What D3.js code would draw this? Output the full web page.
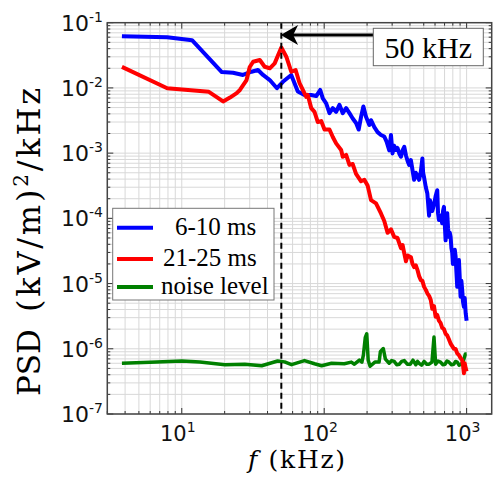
<!DOCTYPE html>
<html>
<head>
<meta charset="utf-8">
<script src="https://cdn.jsdelivr.net/npm/d3@7"></script>
<style>
body { margin: 0; background: #fff; }
</style>
</head>
<body>
<svg id="chart" width="495" height="483"></svg>
<script>
// frequencies in kHz, PSD in (kV/m)^2/kHz
var blueF = [3.8, 7.9, 11.8, 19.1, 22.9, 26.9, 30.9, 34.3, 37.2, 41.5, 46.6, 51.3, 58.7, 65.3, 72.7, 81.1, 87.9, 93.7, 97.8,
	103.3, 108.9, 114.9, 121.3, 127.9, 135, 142.6, 150.4, 158.6, 167.4, 174.6, 181.5, 188.4, 196.6, 207.5, 213.2, 224.9,
	237.1, 250.4, 264.1, 274.2, 286.3, 294.3, 301.8, 310, 319, 327, 337, 346, 355, 365, 375, 385, 395, 406, 417, 428, 440,
	452, 464, 477, 489, 495, 503, 517, 530, 545, 553, 560, 574, 590, 606, 622, 630, 639, 656, 674, 683, 693, 703, 712, 722,
	731, 741, 751, 762, 772, 782, 792, 801, 815, 826, 837, 848, 859, 870, 883, 895, 907, 919, 931, 944, 957, 970, 985, 1000];
var blueP = [0.062, 0.060, 0.054, 0.0175, 0.0171, 0.0158, 0.0177, 0.0188, 0.0158, 0.0132, 0.0099, 0.0124, 0.0158, 0.0088,
	0.0078, 0.0078, 0.0075, 0.0093, 0.0069, 0.0058, 0.0041, 0.0049, 0.0043, 0.0055, 0.0041, 0.0049, 0.0041, 0.0034, 0.0029,
	0.0023, 0.0036, 0.0052, 0.0036, 0.0027, 0.0032, 0.0025, 0.0021, 0.0019, 0.0018, 0.0015, 0.0011, 0.0019, 0.00099,
	0.0013, 0.00112, 0.0012, 0.00098, 0.00088, 0.0011, 0.00125, 0.00092, 0.00076, 0.00066, 0.00078, 0.00055, 0.00039,
	0.00050, 0.00044, 0.00039, 0.00052, 0.00083, 0.00050, 0.00042, 0.00030, 0.00024, 0.00011, 0.00019, 0.00017, 0.00013,
	0.00016, 0.00022, 0.00027, 0.00012, 0.000094, 0.00011, 0.000084, 0.00013, 0.00015, 0.000080, 0.000046, 0.00010,
	0.00012, 0.000070, 0.000052, 0.000060, 0.000052, 0.000035, 0.000030, 0.000020, 0.000028, 0.000033, 0.000026,
	0.000015, 0.0000089, 0.000019, 0.000023, 0.000012, 0.0000063, 0.000011, 0.0000079, 0.0000052, 0.0000044, 0.0000060,
	0.0000035, 0.0000027];

var redF = [3.8, 7.9, 15.5, 19.5, 21.8, 24.3, 25.6, 28.5, 30.0, 31.7, 35.3, 38.2, 41.5, 44.9, 50.0, 54.2, 58.7, 63.0, 67.1,
	70.8, 74.8, 76.7, 81.1, 85.5, 90.2, 95.3, 100.5, 108.9, 114.9, 121.3, 131.5, 135, 142.6, 150.4, 158.6, 167.4, 181.5,
	191.4, 201.7, 213.2, 231.1, 250.4, 264.1, 278.6, 294.3, 310, 327, 346, 355, 365, 375, 385, 395, 406, 417, 428, 440, 452,
	464, 477, 489, 503, 517, 530, 545, 560, 574, 590, 606, 622, 639, 656, 674, 693, 712, 731, 751, 772, 792, 815, 837, 859,
	883, 907, 931, 944, 957, 970, 985, 1000];
var redP = [0.021, 0.0099, 0.0087, 0.0062, 0.0071, 0.0083, 0.0093, 0.0132, 0.0209, 0.0252, 0.0268, 0.0211, 0.0200, 0.0238,
	0.0417, 0.0301, 0.0177, 0.0188, 0.0119, 0.0093, 0.0073, 0.0078, 0.0049, 0.0043, 0.0030, 0.0031, 0.0023, 0.0023,
	0.00177, 0.00141, 0.00112, 0.00088, 0.00094, 0.00066, 0.00068, 0.00048, 0.00037, 0.00039, 0.00032, 0.00019, 0.00017,
	0.000119, 0.000091, 0.000060, 0.000068, 0.000052, 0.000050, 0.000035, 0.000039, 0.000029, 0.000022, 0.000027,
	0.000026, 0.0000255, 0.000020, 0.0000179, 0.000019, 0.0000161, 0.000013, 0.0000113, 0.000011, 0.0000089, 0.0000080,
	0.0000071, 0.0000065, 0.0000056, 0.0000041, 0.0000045, 0.0000031, 0.0000033, 0.0000027, 0.0000025, 0.0000021,
	0.0000020, 0.0000017, 0.0000016, 0.0000014, 0.0000012, 0.0000011, 0.0000010, 0.00000099, 0.00000085, 0.00000080,
	0.00000072, 0.00000067, 0.00000055, 0.00000042, 0.00000060, 0.00000050, 0.00000045];

var greenF = [3.8, 6.0, 10.0, 13.4, 20.1, 27.7, 36.4, 47.1, 52.7, 59.0, 72.7, 85.5, 95.9, 112.6, 138.4, 155, 163, 176.6,
	184, 188.4, 194.4, 199, 203.6, 210, 227, 243, 248, 260, 269, 286, 298, 310, 323, 337, 350, 365, 383, 402, 420, 440,
	452, 464, 483, 503, 525, 545, 571, 590, 606, 630, 656, 680, 705, 728, 751, 780, 814, 836, 859, 885, 912, 945, 980, 1000];
var greenP = [6.0e-7, 6.2e-7, 6.5e-7, 6.25e-7, 5.7e-7, 5.8e-7, 5.5e-7, 6.5e-7, 6.3e-7, 5.7e-7, 6.6e-7, 5.9e-7, 5.5e-7,
	6.0e-7, 5.9e-7, 6.25e-7, 5.8e-7, 6.7e-7, 6.25e-7, 8.0e-7, 1.5e-6, 1.7e-6, 6.7e-7, 5.4e-7, 6.25e-7, 6.25e-7, 9.0e-7,
	1.01e-6, 6.95e-7, 6.0e-7, 6.6e-7, 6.4e-7, 5.7e-7, 5.8e-7, 6.4e-7, 6.6e-7, 5.8e-7, 5.8e-7, 6.7e-7, 5.7e-7, 6.4e-7,
	6.0e-7, 5.6e-7, 6.4e-7, 5.8e-7, 5.8e-7, 6.25e-7, 1.51e-6, 5.8e-7, 6.5e-7, 6.25e-7, 5.7e-7, 5.8e-7, 6.5e-7, 6.25e-7,
	5.7e-7, 5.8e-7, 6.4e-7, 6.25e-7, 5.6e-7, 5.8e-7, 6.3e-7, 8.3e-7, 8.3e-7];

var seriesNames = ["6-10 ms", "21-25 ms", "noise level"];
var seriesColors = ["#0000ff", "#ff0000", "#008000"];
var xTickExps = [1, 2, 3];
var yTickExps = [-7, -6, -5, -4, -3, -2, -1];
var markerF = 50;
var markerLabel = "50 kHz";

var svg = d3.select("#chart");
var plot = { left: 107.3, right: 491.7, top: 22.7, bottom: 414 };

var x = d3.scaleLog().domain([3, 1500]).range([plot.left, plot.right]);
var y = d3.scaleLog().domain([1e-7, 1e-1]).range([plot.bottom, plot.top]);

// minor + major grid values
var xGrid = [], yGrid = [];
for (var e = 0; e <= 3; e++) {
	for (var m = 1; m <= 9; m++) {
		var v = m * Math.pow(10, e);
		if (v >= 3 && v <= 1500) xGrid.push(v);
	}
}
for (var e2 = -7; e2 <= -2; e2++) {
	for (var m2 = 1; m2 <= 9; m2++) {
		yGrid.push(m2 * Math.pow(10, e2));
	}
}

var grid = svg.append("g").attr("class", "grid");
grid.selectAll(".gx")
	.data(xGrid)
	.enter()
	.append("line")
	.attr("x1", (d) => x(d))
	.attr("x2", (d) => x(d))
	.attr("y1", plot.top)
	.attr("y2", plot.bottom)
	.attr("stroke", "#d8d8d8")
	.attr("stroke-width", 1);
grid.selectAll(".gy")
	.data(yGrid)
	.enter()
	.append("line")
	.attr("x1", plot.left)
	.attr("x2", plot.right)
	.attr("y1", (d) => y(d))
	.attr("y2", (d) => y(d))
	.attr("stroke", "#d8d8d8")
	.attr("stroke-width", 1);

// ticks on all four sides, pointing inward
function isDecade(d) {
	var l = Math.log10(d);
	return Math.abs(l - Math.round(l)) < 1e-9;
}
var xMinor = xGrid.filter((d) => !isDecade(d));
var yMinor = yGrid.filter((d) => !isDecade(d));
var xMajor = xTickExps.map((k) => Math.pow(10, k));
var yMajor = yTickExps.map((k) => Math.pow(10, k));

var ticks = svg.append("g").attr("stroke", "#333").attr("stroke-width", 1);
function tickX(vals, len) {
	vals.forEach(function(val) {
		ticks.append("line").attr("x1", x(val)).attr("x2", x(val)).attr("y1", plot.bottom).attr("y2", plot.bottom - len);
		ticks.append("line").attr("x1", x(val)).attr("x2", x(val)).attr("y1", plot.top).attr("y2", plot.top + len);
	});
}
function tickY(vals, len) {
	vals.forEach(function(val) {
		ticks.append("line").attr("x1", plot.left).attr("x2", plot.left + len).attr("y1", y(val)).attr("y2", y(val));
		ticks.append("line").attr("x1", plot.right).attr("x2", plot.right - len).attr("y1", y(val)).attr("y2", y(val));
	});
}
tickX(xMinor, 3);
tickX(xMajor, 6);
tickY(yMinor, 3);
tickY(yMajor, 6);

// curves
var line = d3.line()
	.x((d) => x(d[0]))
	.y((d) => y(d[1]));

var curves = [
	{ f: greenF, p: greenP, color: seriesColors[2], w: 3.5 },
	{ f: blueF, p: blueP, color: seriesColors[0], w: 4 },
	{ f: redF, p: redP, color: seriesColors[1], w: 4 }
];

svg.append("g")
	.selectAll("path")
	.data(curves)
	.enter()
	.append("path")
	.attr("d", (c) => line(c.f.map((f, i) => [f, c.p[i]])))
	.attr("fill", "none")
	.attr("stroke", (c) => c.color)
	.attr("stroke-width", (c) => c.w)
	.attr("stroke-linejoin", "round");

// dashed 50 kHz marker
svg.append("line")
	.attr("x1", x(markerF))
	.attr("x2", x(markerF))
	.attr("y1", plot.top)
	.attr("y2", plot.bottom)
	.attr("stroke", "#000")
	.attr("stroke-width", 2)
	.attr("stroke-dasharray", "6,4");

// arrow pointing to the marker
var arrowY = 35;
var ax = x(markerF);
svg.append("line")
	.attr("x1", 373)
	.attr("x2", ax + 10)
	.attr("y1", arrowY)
	.attr("y2", arrowY)
	.attr("stroke", "#000")
	.attr("stroke-width", 3);
svg.append("path")
	.attr("d", "M" + (ax + 1) + "," + arrowY +
		" L" + (ax + 15) + "," + (arrowY - 8) +
		" L" + (ax + 11) + "," + arrowY +
		" L" + (ax + 15) + "," + (arrowY + 8) + " Z")
	.attr("fill", "#000")
	.attr("stroke", "#000")
	.attr("stroke-width", 1.5);

svg.append("rect")
	.attr("x", 373.3)
	.attr("y", 28.3)
	.attr("width", 110)
	.attr("height", 37.4)
	.attr("fill", "#fff")
	.attr("stroke", "#666")
	.attr("stroke-width", 1);
svg.append("text")
	.attr("x", 428.3)
	.attr("y", 58)
	.attr("text-anchor", "middle")
	.attr("font-family", "Liberation Serif, serif")
	.attr("font-size", 30)
	.text(markerLabel);

// frame
svg.append("rect")
	.attr("x", plot.left)
	.attr("y", plot.top)
	.attr("width", plot.right - plot.left)
	.attr("height", plot.bottom - plot.top)
	.attr("fill", "none")
	.attr("stroke", "#444")
	.attr("stroke-width", 1.5);

// tick labels
var labels = svg.append("g")
	.attr("font-family", "DejaVu Sans, sans-serif")
	.attr("fill", "#111");
xTickExps.forEach(function(k) {
	var t = labels.append("text")
		.attr("x", x(Math.pow(10, k)) - 4)
		.attr("y", 441)
		.attr("text-anchor", "middle")
		.attr("font-size", 21);
	t.append("tspan").text("10");
	t.append("tspan").attr("font-size", 14).attr("dy", -9).text(k);
});
yTickExps.forEach(function(k) {
	var t = labels.append("text")
		.attr("x", 103)
		.attr("y", y(Math.pow(10, k)) + 8)
		.attr("text-anchor", "end")
		.attr("font-size", 22);
	t.append("tspan").text("10");
	t.append("tspan").attr("font-size", 14).attr("dy", -9).text(k);
});

// axis titles
var xt = svg.append("text")
	.attr("x", 248)
	.attr("y", 468)
	.attr("font-family", "DejaVu Serif, serif")
	.attr("font-size", 25)
	.attr("textLength", 97)
	.attr("lengthAdjust", "spacing");
xt.append("tspan").attr("font-style", "italic").text("f");
xt.append("tspan").text("\u00a0(kHz)");

// y title in two pieces: "PSD" and the unit
var ytitle = svg.append("g")
	.attr("transform", "translate(40,0) rotate(-90)")
	.attr("font-family", "DejaVu Serif, serif")
	.attr("font-size", 31);
ytitle.append("text")
	.attr("x", -396)
	.attr("y", 0)
	.text("PSD");
var unit = ytitle.append("text")
	.attr("x", -312)
	.attr("y", 0)
	.attr("font-size", 32)
	.attr("textLength", 224)
	.attr("lengthAdjust", "spacing");
unit.append("tspan").text("(kV/m)");
unit.append("tspan").attr("font-size", 20).attr("dy", -12).text("2");
unit.append("tspan").attr("dy", 12).text("/kHz");

// legend
var legend = svg.append("g");
legend.append("rect")
	.attr("x", 112.7)
	.attr("y", 208.3)
	.attr("width", 161.3)
	.attr("height", 91.7)
	.attr("fill", "#fff")
	.attr("stroke", "#777")
	.attr("stroke-width", 1);
var legY = [227.7, 259, 287];
var legTextX = [175, 163, 161];
seriesNames.forEach(function(name, i) {
	legend.append("line")
		.attr("x1", 117)
		.attr("x2", 153)
		.attr("y1", legY[i])
		.attr("y2", legY[i])
		.attr("stroke", seriesColors[i])
		.attr("stroke-width", 4);
	legend.append("text")
		.attr("x", legTextX[i])
		.attr("y", legY[i] + 7)
		.attr("font-family", "Liberation Serif, serif")
		.attr("font-size", 25)
		.text(name);
});
</script>
</body>
</html>
